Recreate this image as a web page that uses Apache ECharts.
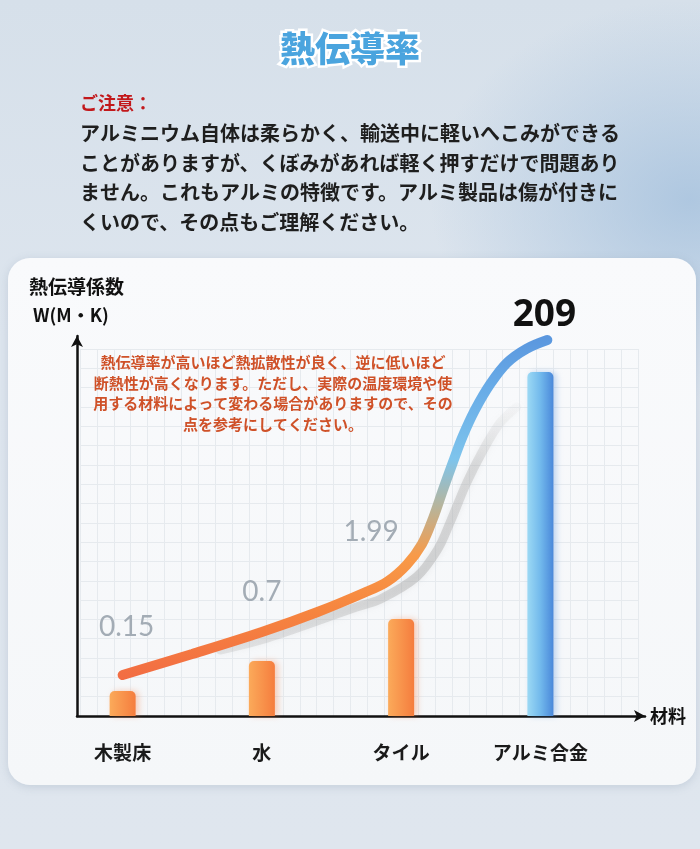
<!DOCTYPE html>
<html>
<head>
<meta charset="utf-8">
<script src="https://cdn.jsdelivr.net/npm/echarts@6/dist/echarts.min.js"></script>
<style>
  html, body { margin: 0; padding: 0; }
  body {
    width: 700px; height: 849px; position: relative; overflow: hidden;
    background:
      radial-gradient(ellipse 260px 200px at 690px 200px, rgba(160,190,220,0.75), rgba(160,190,220,0) 100%),
      linear-gradient(180deg, #d6e0ea 0%, #dde5ee 40%, #dfe6ee 100%);
  }
  #card {
    position: absolute; left: 8px; top: 258px; width: 688px; height: 527px;
    border-radius: 22px;
    background: linear-gradient(180deg, #f9fafc 0%, #f5f7f9 100%);
    box-shadow: 0 2px 8px rgba(120,140,165,0.25);
  }
  #chart { position: absolute; left: 0; top: 0; width: 700px; height: 849px; }
</style>
</head>
<body>
<div id="card"></div>
<div id="chart"></div>
<script>
// 材料と熱伝導率
var categories = ['木製床', '水', 'タイル', 'アルミ合金'];
var conductivity = [0.15, 0.7, 1.99, 209];
// 棒の長さ（図は実寸ではないので画像から読んだ表示上の長さ）
var barHeights = [6.25, 13.75, 24.25, 86];

// 曲線（x: 材料の位置, y: 棒と同じ表示単位）
var curvePoints = [
    [0.0, 10.25], [0.5, 15.5], [1.0, 21.0], [1.4, 26.0], [1.73, 30.75], [1.9, 33.6],
    [2.04, 37.8], [2.15, 43.0], [2.23, 49.5], [2.3, 56.5], [2.37, 63.25],
    [2.44, 69.75], [2.53, 76.5], [2.64, 83.0], [2.76, 88.3], [2.9, 91.8], [3.05, 94]
];
var shadowPoints = [
    [0.7, 16.5], [1.04, 19.5], [1.68, 27.25], [1.85, 29.2], [2.11, 34.75], [2.26, 41.5],
    [2.35, 48.25], [2.47, 58.25], [2.59, 66.5], [2.71, 73.25], [2.83, 77.25]
];

var noteLines = [
    'アルミニウム自体は柔らかく、輸送中に軽いへこみができる',
    'ことがありますが、くぼみがあれば軽く押すだけで問題あり',
    'ません。これもアルミの特徴です。アルミ製品は傷が付きに',
    'くいので、その点もご理解ください。'
];
var hintLines = [
    '熱伝導率が高いほど熱拡散性が良く、逆に低いほど',
    '断熱性が高くなります。ただし、実際の温度環境や使',
    '用する材料によって変わる場合がありますので、その',
    '点を参考にしてください。'
];

var jp = '"Noto Sans CJK JP", "Noto Sans", sans-serif';

var orangeBar = new echarts.graphic.LinearGradient(0, 0, 1, 0, [
    {offset: 0, color: '#fbaa5a'}, {offset: 1, color: '#f57d3e'}
]);
var blueBar = new echarts.graphic.LinearGradient(0, 0, 1, 0, [
    {offset: 0, color: '#9cd9f4'}, {offset: 0.5, color: '#72b9ec'}, {offset: 1, color: '#4a88da'}
]);

// ラベル位置（棒の上端からのずらし）
var labelShift = [[4, -50], [0, -55], [-30, -73], [4, -38]];

var barData = barHeights.map(function (h, i) {
    var last = i === barHeights.length - 1;
    return {
        value: h,
        itemStyle: last ? {color: blueBar, shadowColor: 'rgba(80,140,220,0.35)'} : {},
        label: {
            offset: labelShift[i],
            fontSize: last ? 37 : 28,
            lineHeight: last ? 37 : 28,
            fontWeight: last ? 'bold' : 'normal',
            color: last ? '#111' : '#a3acb5',
            fontFamily: last ? '"Noto Sans", sans-serif' : 'Lato, "Noto Sans", sans-serif'
        }
    };
});

var option = {
    animation: false,
    grid: [
        {left: 77, right: 55, top: 336, bottom: 133},
        {left: 53, right: 90, top: 316, bottom: 133},
        {left: 80, right: 62, top: 349, bottom: 133}
    ],
    xAxis: [
        {
            gridIndex: 0, type: 'value', min: 0, max: 1,
            axisLine: {show: true, symbol: ['none', 'arrow'], symbolSize: [9, 11], lineStyle: {color: '#111', width: 2.5}},
            axisTick: {show: false}, axisLabel: {show: false}, splitLine: {show: false}
        },
        {
            gridIndex: 1, type: 'category', data: categories,
            axisLine: {show: false}, axisTick: {show: false},
            axisLabel: {margin: 27, fontSize: 19, fontWeight: 'bold', color: '#1a1a1a', fontFamily: jp}
        },
        {gridIndex: 1, type: 'value', position: 'top', min: -0.5, max: 3.5, show: false},
        {
            gridIndex: 2, type: 'value', min: 0, max: 33, interval: 1,
            axisLine: {show: false}, axisTick: {show: false}, axisLabel: {show: false},
            splitLine: {show: true, lineStyle: {color: '#e6eaee', width: 1}}
        }
    ],
    yAxis: [
        {
            gridIndex: 0, type: 'value', min: 0, max: 1,
            axisLine: {show: true, symbol: ['none', 'arrow'], symbolSize: [9, 11], lineStyle: {color: '#111', width: 2.5}},
            axisTick: {show: false}, axisLabel: {show: false}, splitLine: {show: false}
        },
        {gridIndex: 1, type: 'value', min: 0, max: 100, show: false},
        {
            gridIndex: 2, type: 'value', min: 0, max: 19, interval: 1,
            axisLine: {show: false}, axisTick: {show: false}, axisLabel: {show: false},
            splitLine: {show: true, lineStyle: {color: '#e6eaee', width: 1}}
        }
    ],
    graphic: [
        {
            type: 'text', left: 'center', top: 29, z: 10,
            style: {
                text: '熱伝導率', font: '900 35px ' + jp,
                fill: '#4aa4de',
                stroke: '#fff', lineWidth: 5,
                shadowColor: 'rgba(40,70,110,0.35)', shadowBlur: 5, shadowOffsetY: 2
            }
        },
        {
            type: 'text', x: 80, y: 94, z: 10,
            style: {text: 'ご注意：', font: 'bold 18px ' + jp, fill: '#c2181b'}
        },
        {
            type: 'text', x: 80, y: 119, z: 10,
            style: {
                text: noteLines.join('\n'), font: 'bold 20px ' + jp, fill: '#1e1e1e',
                lineHeight: 29.5
            }
        },
        {
            type: 'text', x: 29, y: 277, z: 10,
            style: {text: '熱伝導係数', font: 'bold 19px ' + jp, fill: '#111'}
        },
        {
            type: 'text', x: 33, y: 306, z: 10,
            style: {text: 'W(M・K)', font: 'bold 18px ' + jp, fill: '#111'}
        },
        {
            type: 'text', x: 273, y: 352, z: 10,
            style: {
                text: hintLines.join('\n'), font: 'bold 15px ' + jp, fill: '#cf5128',
                lineHeight: 20.7, align: 'center'
            }
        },
        {
            type: 'text', x: 650, y: 707, z: 10,
            style: {text: '材料', font: 'bold 18px ' + jp, fill: '#111'}
        }
    ],
    series: [
        {
            type: 'line', xAxisIndex: 2, yAxisIndex: 1, z: 2,
            smooth: 0.35, symbol: 'none', data: shadowPoints,
            lineStyle: {
                width: 9, cap: 'round',
                color: new echarts.graphic.LinearGradient(0, 1, 0, 0, [
                    {offset: 0, color: 'rgba(175,175,175,0.25)'},
                    {offset: 0.3, color: 'rgba(170,170,170,0.45)'},
                    {offset: 0.75, color: 'rgba(180,180,180,0.4)'},
                    {offset: 1, color: 'rgba(200,200,200,0.05)'}
                ]),
                shadowColor: 'rgba(160,160,160,0.35)', shadowBlur: 6
            }
        },
        {
            type: 'line', xAxisIndex: 2, yAxisIndex: 1, z: 3,
            smooth: 0.35, symbol: 'none', data: curvePoints,
            lineStyle: {
                width: 10, cap: 'round',
                color: new echarts.graphic.LinearGradient(0, 1, 0, 0, [
                    {offset: 0, color: '#f26c43'},
                    {offset: 0.2, color: '#f6853f'},
                    {offset: 0.36, color: '#f89a48'},
                    {offset: 0.5, color: '#b8b49a'},
                    {offset: 0.64, color: '#7ec4ec'},
                    {offset: 0.85, color: '#68abe7'},
                    {offset: 1, color: '#5a96de'}
                ])
            }
        },
        {
            type: 'bar', xAxisIndex: 1, yAxisIndex: 1, z: 4,
            barWidth: 26, data: barData,
            itemStyle: {
                color: orangeBar, borderRadius: [5, 5, 0, 0],
                shadowColor: 'rgba(245,120,60,0.35)', shadowBlur: 6, shadowOffsetX: 3
            },
            label: {
                show: true, position: 'top', distance: 0,
                formatter: function (p) { return String(conductivity[p.dataIndex]); }
            }
        }
    ]
};

var myChart = echarts.init(document.getElementById('chart'));
myChart.setOption(option);
</script>
</body>
</html>
